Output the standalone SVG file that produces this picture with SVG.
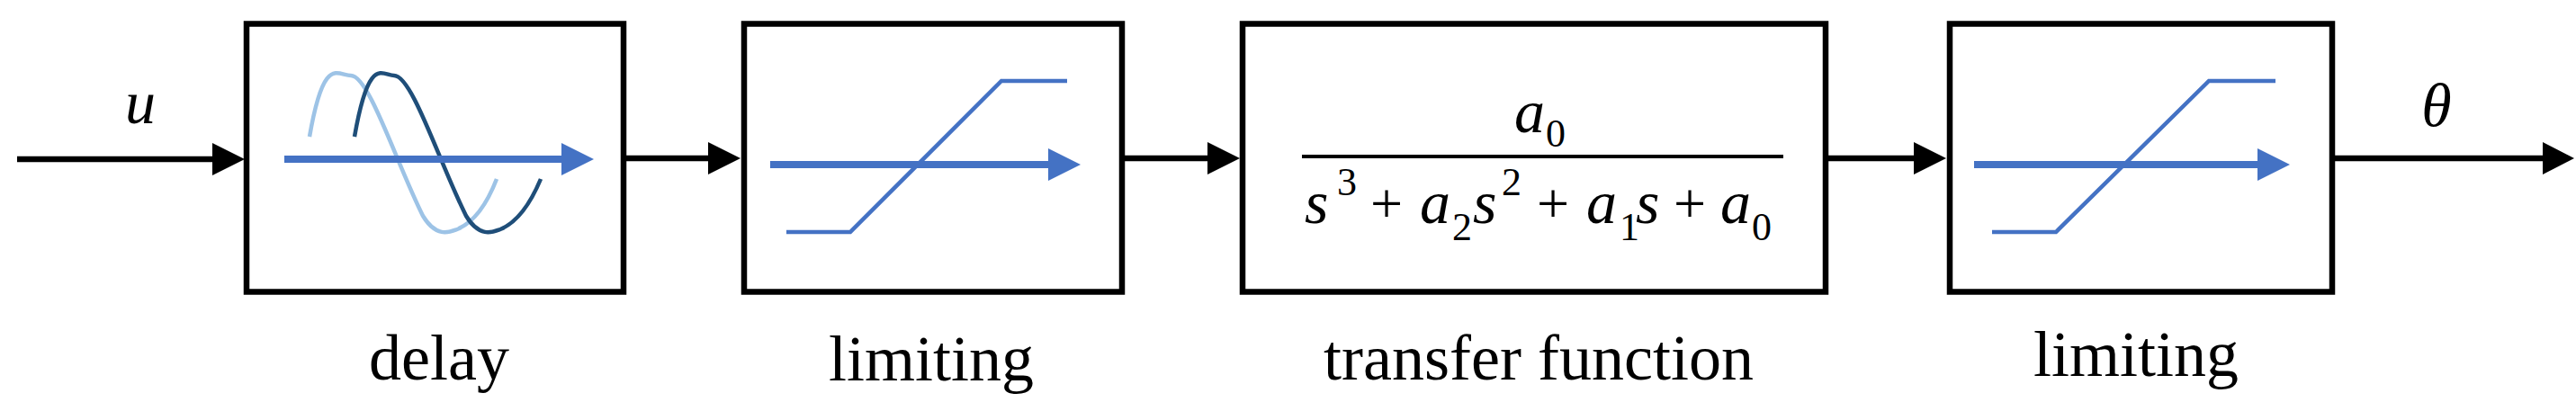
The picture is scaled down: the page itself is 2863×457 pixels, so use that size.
<svg xmlns="http://www.w3.org/2000/svg" width="2863" height="457" viewBox="0 0 2863 457">
<style>
.box{fill:#fff;stroke:#000;stroke-width:6.5}
.con{stroke:#000;stroke-width:6.5;fill:none}
.ah{fill:#000}
.ic{stroke:#4472c4;stroke-width:4.5;fill:none}
.ba{stroke:#4472c4;stroke-width:8;fill:none}
.bh{fill:#4472c4}
.lbl{font-family:"Liberation Serif",serif;font-size:72px;text-anchor:middle;fill:#000}
.m{font-family:"Liberation Serif",serif;font-style:italic;font-size:68px;fill:#000}
.n{font-family:"Liberation Serif",serif;font-size:44px;fill:#000}
.p{font-family:"Liberation Serif",serif;font-size:64px;fill:#000}
</style>
<rect width="2863" height="457" fill="#fff"/>
<g id="connectors">
<line class="con" x1="19" y1="177" x2="240" y2="177"/><polygon class="ah" points="236,159 272,177 236,195"/>
<line class="con" x1="693" y1="176" x2="790" y2="176"/><polygon class="ah" points="787,158 823,176 787,194"/>
<line class="con" x1="1247" y1="176" x2="1345" y2="176"/><polygon class="ah" points="1342,158 1378,176 1342,194"/>
<line class="con" x1="2029" y1="176" x2="2130" y2="176"/><polygon class="ah" points="2127,158 2163,176 2127,194"/>
<line class="con" x1="2592" y1="176" x2="2830" y2="176"/><polygon class="ah" points="2826,158 2861,176 2826,194"/>
<text class="m" x="156" y="137" text-anchor="middle" font-size="72">u</text>
<text class="m" x="2708" y="140" text-anchor="middle" font-size="72">θ</text>
</g>
<g id="delay">
<rect class="box" x="274" y="26.5" width="419" height="298"/>
<path d="M344,152 C360,60 375,84 390,84 C410,84 440,180 470,240 C485,265 500,258 508,255 C525,248 540,230 552,199" stroke="#9dc3e6" stroke-width="4.5" fill="none"/>
<path d="M394,152 C410,60 425,84 438,84 C458,84 488,180 518,240 C533,265 548,258 556,255 C573,248 588,230 601,199" stroke="#1f4e79" stroke-width="4.5" fill="none"/>
<line class="ba" x1="316" y1="177" x2="628" y2="177"/><polygon class="bh" points="624,159 660,177 624,195"/>
<text class="lbl" x="488" y="422">delay</text>
</g>
<g id="limiting1">
<rect class="box" x="827" y="26.5" width="420" height="298"/>
<polyline class="ic" points="874,258 945,258 1113,90 1186,90"/>
<line class="ba" x1="856" y1="183" x2="1168" y2="183"/><polygon class="bh" points="1165,165 1201,183 1165,201"/>
<text class="lbl" x="1035" y="423">limiting</text>
</g>
<g id="transfer">
<rect class="box" x="1381" y="26.5" width="648" height="298"/>
<text class="m" x="1683" y="147">a</text><text class="n" x="1718" y="163">0</text>
<line x1="1447" y1="174" x2="1982" y2="174" stroke="#000" stroke-width="4"/>
<text class="m" x="1450" y="248">s</text><text class="n" x="1486" y="217">3</text>
<text class="p" x="1523" y="248">+</text>
<text class="m" x="1578" y="248">a</text><text class="n" x="1614" y="267">2</text>
<text class="m" x="1637" y="248">s</text><text class="n" x="1669" y="217">2</text>
<text class="p" x="1708" y="248">+</text>
<text class="m" x="1763" y="248">a</text><text class="n" x="1800" y="267">1</text>
<text class="m" x="1818" y="248">s</text>
<text class="p" x="1860" y="248">+</text>
<text class="m" x="1912" y="248">a</text><text class="n" x="1947" y="267">0</text>
<text class="lbl" x="1710" y="422">transfer function</text>
</g>
<g id="limiting2">
<rect class="box" x="2167" y="26.5" width="425" height="298"/>
<polyline class="ic" points="2214,258 2285,258 2455,90 2529,90"/>
<line class="ba" x1="2194" y1="183" x2="2512" y2="183"/><polygon class="bh" points="2509,165 2545,183 2509,201"/>
<text class="lbl" x="2374" y="418">limiting</text>
</g>
</svg>
